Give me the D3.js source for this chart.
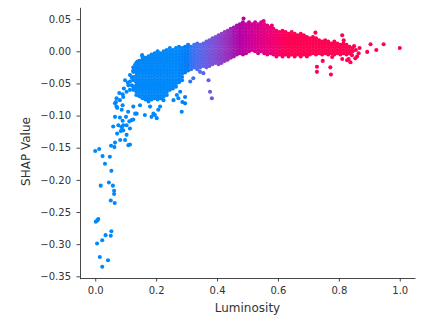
<!DOCTYPE html>
<html><head><meta charset="utf-8">
<script src="https://cdn.jsdelivr.net/npm/d3@7"></script>
<style>body{margin:0;background:#fff}svg{display:block}</style>
</head><body>
<svg id="chart" width="421" height="320"></svg>
<script>
const xTicks = [0, 0.2, 0.4, 0.6, 0.8, 1.0];
const yTicks = [0.05, 0, -0.05, -0.1, -0.15, -0.2, -0.25, -0.3, -0.35];
const xLabel = "Luminosity";
const yLabel = "SHAP Value";
const colorLow = 0.27, colorHigh = 0.64;

// dense band, read column by column (Luminosity -> SHAP values)
const bandLum = [0.125,0.135,0.145,0.155,0.165,0.175,0.185,0.195,0.205,0.215,0.225,0.235,0.245,0.255,0.265,0.275,0.285,0.295,0.305,0.315,0.325,0.335,0.345,0.355,0.365,0.375,0.385,0.395,0.405,0.415,0.425,0.435,0.445,0.455,0.465,0.475,0.485,0.495,0.505,0.515,0.525,0.535,0.545,0.555,0.565,0.575,0.585,0.595,0.605,0.615,0.625,0.635,0.645,0.655,0.665,0.675,0.685,0.695,0.705,0.715,0.725,0.735,0.745,0.755,0.765,0.775,0.785,0.795,0.805,0.815,0.825,0.835,0.845];
const bandShap = [
[-0.025,-0.030,-0.040,-0.045,-0.055,-0.060],
[-0.018,-0.023,-0.028,-0.033,-0.038,-0.043,-0.048,-0.053,-0.058,-0.063,-0.068],
[-0.015,-0.020,-0.025,-0.030,-0.035,-0.040,-0.045,-0.050,-0.055,-0.060,-0.065,-0.070],
[-0.008,-0.013,-0.018,-0.023,-0.028,-0.033,-0.038,-0.043,-0.048,-0.053,-0.058,-0.063,-0.068,-0.073],
[-0.010,-0.015,-0.020,-0.025,-0.030,-0.035,-0.040,-0.045,-0.050,-0.055,-0.060,-0.065,-0.070,-0.075],
[-0.008,-0.013,-0.018,-0.023,-0.028,-0.033,-0.038,-0.043,-0.048,-0.053,-0.058,-0.063,-0.068,-0.073,-0.078],
[-0.005,-0.010,-0.015,-0.020,-0.025,-0.030,-0.035,-0.040,-0.045,-0.050,-0.055,-0.060,-0.065,-0.070,-0.075],
[-0.003,-0.008,-0.013,-0.018,-0.023,-0.028,-0.033,-0.038,-0.043,-0.048,-0.053,-0.058,-0.063,-0.068,-0.073],
[0.000,-0.005,-0.010,-0.015,-0.020,-0.025,-0.030,-0.035,-0.040,-0.045,-0.050,-0.055,-0.060,-0.065,-0.070,-0.075],
[-0.003,-0.008,-0.013,-0.018,-0.023,-0.028,-0.033,-0.038,-0.043,-0.048,-0.053,-0.058,-0.063,-0.068,-0.073],
[0.000,-0.005,-0.010,-0.015,-0.020,-0.025,-0.030,-0.035,-0.040,-0.045,-0.050,-0.055,-0.060,-0.065,-0.070],
[0.002,-0.003,-0.008,-0.013,-0.018,-0.023,-0.028,-0.033,-0.038,-0.043,-0.048,-0.053,-0.058,-0.063,-0.068],
[0.005,0.000,-0.005,-0.010,-0.015,-0.020,-0.025,-0.030,-0.035,-0.040,-0.045,-0.050,-0.055,-0.060],
[0.002,-0.003,-0.008,-0.013,-0.018,-0.023,-0.028,-0.033,-0.038,-0.043,-0.048,-0.053,-0.058],
[0.005,0.000,-0.005,-0.010,-0.015,-0.020,-0.025,-0.030,-0.035,-0.040,-0.045,-0.050,-0.055],
[0.007,0.002,-0.003,-0.008,-0.013,-0.018,-0.023,-0.028,-0.033,-0.038,-0.043,-0.048],
[0.005,0.000,-0.005,-0.010,-0.015,-0.020,-0.025,-0.030,-0.035,-0.040,-0.045],
[0.007,0.002,-0.003,-0.008,-0.013,-0.018,-0.023,-0.028,-0.033],
[0.010,0.005,0.000,-0.005,-0.010,-0.015,-0.020,-0.025,-0.030],
[0.007,0.002,-0.003,-0.008,-0.013,-0.018,-0.023,-0.028],
[0.010,0.005,0.000,-0.005,-0.010,-0.015,-0.020,-0.025],
[0.012,0.007,0.002,-0.003,-0.008,-0.013,-0.018,-0.023,-0.028],
[0.010,0.005,0.000,-0.005,-0.010,-0.015,-0.020,-0.025],
[0.012,0.007,0.002,-0.003,-0.008,-0.013,-0.018,-0.023],
[0.015,0.010,0.005,0.000,-0.005,-0.010,-0.015,-0.020,-0.025],
[0.017,0.012,0.007,0.002,-0.003,-0.008,-0.013,-0.018,-0.023],
[0.020,0.015,0.010,0.005,0.000,-0.005,-0.010,-0.015,-0.020],
[0.022,0.017,0.012,0.007,0.002,-0.003,-0.008,-0.013,-0.018],
[0.025,0.020,0.015,0.010,0.005,0.000,-0.005,-0.010,-0.015,-0.020],
[0.027,0.022,0.017,0.012,0.007,0.002,-0.003,-0.008,-0.013,-0.018],
[0.030,0.025,0.020,0.015,0.010,0.005,0.000,-0.005,-0.010,-0.015],
[0.032,0.027,0.022,0.017,0.012,0.007,0.002,-0.003,-0.008,-0.013],
[0.035,0.030,0.025,0.020,0.015,0.010,0.005,0.000,-0.005,-0.010],
[0.037,0.032,0.027,0.022,0.017,0.012,0.007,0.002,-0.003,-0.008],
[0.040,0.035,0.030,0.025,0.020,0.015,0.010,0.005,0.000,-0.005],
[0.042,0.037,0.032,0.027,0.022,0.017,0.012,0.007,0.002,-0.003],
[0.045,0.040,0.035,0.030,0.025,0.020,0.015,0.010,0.005,0.000,-0.005],
[0.042,0.037,0.032,0.027,0.022,0.017,0.012,0.007,0.002,-0.003],
[0.045,0.040,0.035,0.030,0.025,0.020,0.015,0.010,0.005,0.000],
[0.042,0.037,0.032,0.027,0.022,0.017,0.012,0.007,0.002],
[0.045,0.040,0.035,0.030,0.025,0.020,0.015,0.010,0.005,0.000],
[0.042,0.037,0.032,0.027,0.022,0.017,0.012,0.007,0.002,-0.003],
[0.045,0.040,0.035,0.030,0.025,0.020,0.015,0.010,0.005,0.000],
[0.042,0.037,0.032,0.027,0.022,0.017,0.012,0.007,0.002,-0.003],
[0.040,0.035,0.030,0.025,0.020,0.015,0.010,0.005,0.000,-0.005],
[0.037,0.032,0.027,0.022,0.017,0.012,0.007,0.002,-0.003],
[0.035,0.030,0.025,0.020,0.015,0.010,0.005,0.000,-0.005],
[0.032,0.027,0.022,0.017,0.012,0.007,0.002,-0.003,-0.008],
[0.030,0.025,0.020,0.015,0.010,0.005,0.000,-0.005],
[0.032,0.027,0.022,0.017,0.012,0.007,0.002,-0.003,-0.008],
[0.030,0.025,0.020,0.015,0.010,0.005,0.000,-0.005],
[0.027,0.022,0.017,0.012,0.007,0.002,-0.003,-0.008],
[0.030,0.025,0.020,0.015,0.010,0.005,0.000,-0.005],
[0.027,0.022,0.017,0.012,0.007,0.002,-0.003,-0.008],
[0.025,0.020,0.015,0.010,0.005,0.000,-0.005],
[0.027,0.022,0.017,0.012,0.007,0.002,-0.003,-0.008],
[0.025,0.020,0.015,0.010,0.005,0.000,-0.005],
[0.022,0.017,0.012,0.007,0.002,-0.003,-0.008],
[0.020,0.015,0.010,0.005,0.000,-0.005],
[0.022,0.017,0.012,0.007,0.002,-0.003],
[0.020,0.015,0.010,0.005,0.000,-0.005],
[0.017,0.012,0.007,0.002,-0.003],
[0.015,0.010,0.005,0.000,-0.005],
[0.017,0.012,0.007,0.002,-0.003],
[0.015,0.010,0.005,0.000,-0.005],
[0.012,0.007,0.002,-0.003],
[0.015,0.010,0.005,0.000,-0.005],
[0.012,0.007,0.002,-0.003],
[0.010,0.005,0.000,-0.005],
[0.012,0.007,0.002,-0.003],
[0.010,0.005,0.000,-0.005],
[0.007,0.002,-0.003],
[0.005,0.000]
];

// scattered points read individually
const sparseLum = [0.000,0.013,0.024,0.048,0.032,0.053,0.045,0.018,0.058,0.062,0.062,0.051,0.064,0.010,0.007,0.002,0.053,0.051,0.034,0.023,0.006,0.015,0.042,0.023,
0.052,0.065,0.063,0.082,0.098,0.109,0.114,0.103,0.072,0.084,0.092,0.114,0.059,0.076,0.092,0.103,0.087,0.090,0.065,0.081,0.101,0.120,0.112,0.125,0.131,
0.070,0.065,0.081,0.070,0.092,0.079,0.103,0.094,0.120,0.107,0.098,0.120,0.114,0.125,0.136,0.131,0.139,0.154,0.138,0.090,0.072,0.087,0.108,0.068,0.090,0.114,0.114,0.109,
0.125,0.147,0.136,0.163,0.185,0.196,0.180,0.207,0.191,0.202,0.213,0.224,0.257,0.273,0.268,0.286,0.284,0.295,0.295,0.279,0.312,0.322,
0.344,0.355,0.372,0.377,0.383,0.487,0.553,0.580,
0.723,0.811,0.816,0.904,0.947,1.000,0.923,0.893,0.868,0.865,0.811,0.832,0.838,0.747,0.778,0.728,0.728,0.772,0.774,0.854,0.860,0.843,0.827,0.856,0.850];
const sparseShap = [-0.155,-0.152,-0.163,-0.164,-0.175,-0.186,-0.204,-0.209,-0.209,-0.217,-0.222,-0.232,-0.236,-0.261,-0.263,-0.265,-0.280,-0.287,-0.286,-0.294,-0.299,-0.320,-0.325,-0.335,
-0.147,-0.142,-0.149,-0.138,-0.138,-0.146,-0.145,-0.130,-0.128,-0.124,-0.123,-0.120,-0.117,-0.115,-0.115,-0.115,-0.118,-0.108,-0.102,-0.103,-0.102,-0.107,-0.109,-0.106,-0.097,
-0.086,-0.081,-0.076,-0.073,-0.071,-0.065,-0.063,-0.058,-0.053,-0.049,-0.045,-0.041,-0.037,-0.032,-0.026,-0.021,-0.016,-0.006,-0.018,-0.084,-0.088,-0.091,-0.094,-0.079,-0.067,-0.047,-0.060,-0.053,
-0.086,-0.084,-0.097,-0.099,-0.102,-0.099,-0.086,-0.091,-0.097,-0.104,-0.086,-0.076,-0.076,-0.073,-0.068,-0.079,-0.094,-0.081,-0.071,-0.063,-0.047,-0.042,
-0.032,-0.034,-0.045,-0.063,-0.073,0.051,0.047,0.040,
0.029,0.025,0.017,0.011,0.011,0.005,0.002,-0.001,0.005,-0.003,-0.012,-0.012,-0.017,-0.015,-0.009,-0.024,-0.032,-0.025,-0.036,-0.011,-0.008,-0.006,-0.014,0.002,0.008];

const points = [];
bandLum.forEach((lv, i) => bandShap[i].forEach(sv => points.push([lv, sv])));
sparseLum.forEach((lv, i) => points.push([lv, sparseShap[i]]));

const svg = d3.select("#chart");
const x = d3.scaleLinear().domain([-0.05, 1.05]).range([80, 415]);
const y = d3.scaleLinear().domain([-0.3537, 0.0684]).range([278.7, 7.3]);

// SHAP red_blue colormap (LCH interpolation)
function shapColor(t) {
  t = Math.max(0, Math.min(1, t));
  const l = t < 0.5 ? 54 + (40 - 54) * (t / 0.5) : 40 + (54 - 40) * ((t - 0.5) / 0.5);
  const c = 70 + 20 * t;
  const h = (4.6588 + (0.35470565 + 2 * Math.PI - 4.6588) * t) * 180 / Math.PI;
  return d3.hcl(h, c, l).formatHex();
}
const color = v => shapColor((v - colorLow) / (colorHigh - colorLow));

svg.append("g").selectAll("circle").data(points).join("circle")
  .attr("cx", d => x(d[0])).attr("cy", d => y(d[1]))
  .attr("r", 2.05).attr("fill", d => color(d[0]));

const axisColor = "#333333";
const font = "'DejaVu Sans', sans-serif";

const gx = svg.append("g").attr("transform", "translate(0,278)")
  .call(d3.axisBottom(x).tickValues(xTicks).tickFormat(d3.format(".1f")).tickSize(3.5).tickSizeOuter(0).tickPadding(5.5));
const gy = svg.append("g").attr("transform", "translate(80,0)")
  .call(d3.axisLeft(y).tickValues(yTicks).tickFormat(d3.format(".2f")).tickSize(3.5).tickSizeOuter(0).tickPadding(5.5));
[gx, gy].forEach(g => {
  g.attr("font-family", font).attr("font-size", 10);
  g.select(".domain").attr("stroke", axisColor).attr("stroke-width", 0.9);
  g.selectAll(".tick line").attr("stroke", axisColor).attr("stroke-width", 0.9);
  g.selectAll(".tick text").attr("fill", axisColor);
});

svg.append("text").attr("x", 247.5).attr("y", 312).attr("text-anchor", "middle")
  .attr("font-family", font).attr("font-size", 12).attr("fill", axisColor).text(xLabel);
svg.append("text").attr("transform", "translate(29.5,151.5) rotate(-90)").attr("text-anchor", "middle")
  .attr("font-family", font).attr("font-size", 12).attr("fill", axisColor).text(yLabel);
</script>
</body></html>
